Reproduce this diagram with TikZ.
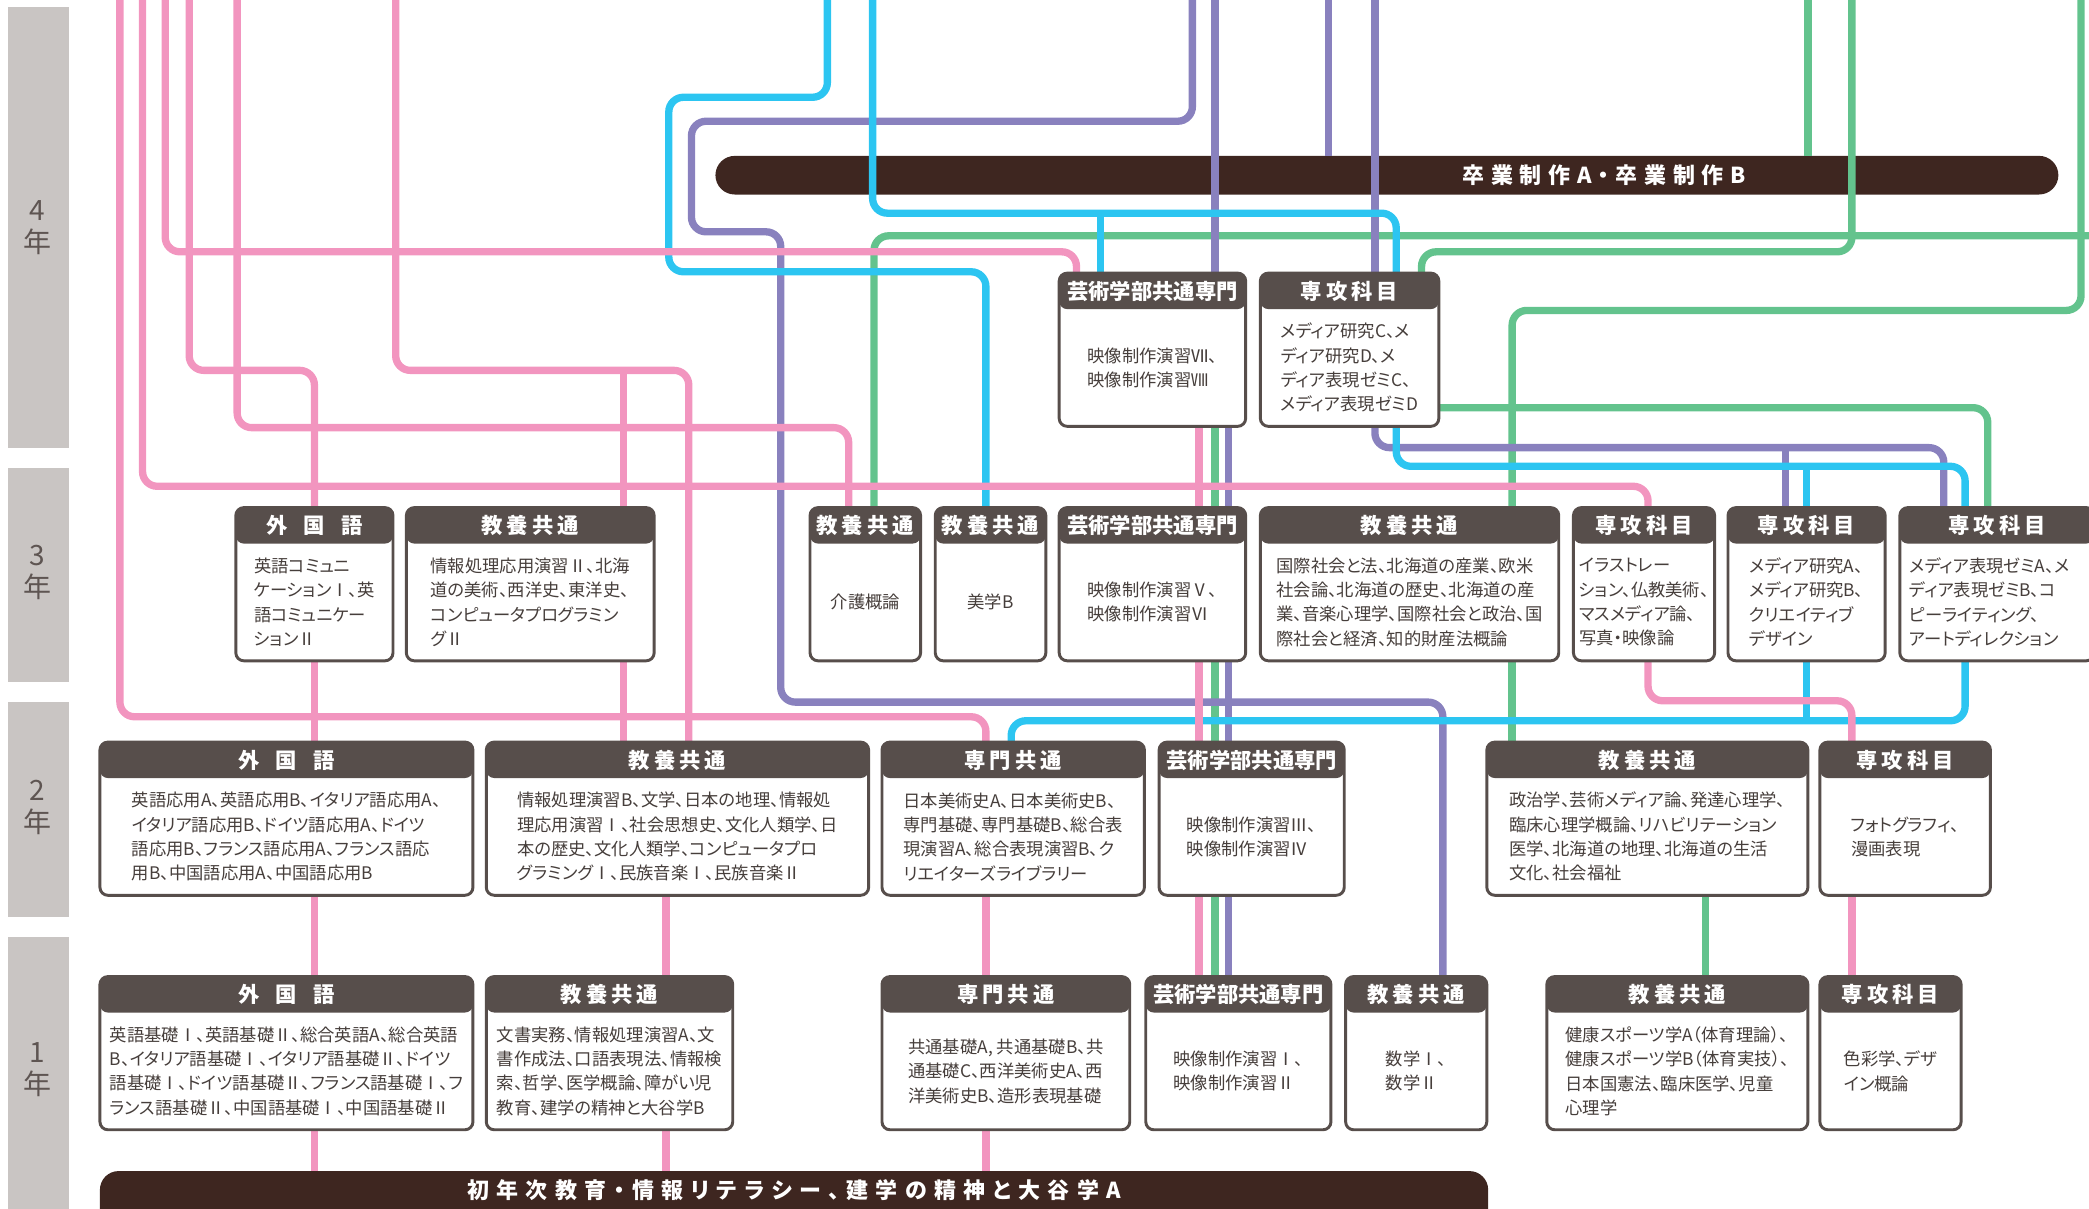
\documentclass[tikz,border=0pt]{standalone}
\usepackage{fontspec}
\setmainfont{Noto Sans CJK JP}[RawFeature=+palt]
\pgfdeclarelayer{barl}
\pgfdeclarelayer{lines}
\pgfsetlayers{barl,lines,main}
\definecolor{pk}{HTML}{F295BF}
\definecolor{cy}{HTML}{2CC5F1}
\definecolor{pu}{HTML}{8981BE}
\definecolor{gr}{HTML}{63C38D}
\definecolor{boxc}{HTML}{574E4B}
\definecolor{barc}{HTML}{3E2620}
\definecolor{yearc}{HTML}{C9C5C3}
\definecolor{txtc}{HTML}{463E3B}
\definecolor{ylab}{HTML}{5E5552}
\makeatletter
\newcommand\lsp[2]{\def\lsp@g{#1}\let\lsp@s\relax\@tfor\lsp@c:=#2\do{\lsp@s\lsp@c\def\lsp@s{\hspace{\lsp@g}}}}
\makeatother
\newcommand\hGK{\lsp{12pt}{外国語}}
\newcommand\hKY{\lsp{3pt}{教養共通}}
\newcommand\hSK{\lsp{3pt}{専攻科目}}
\newcommand\hSM{\lsp{3pt}{専門共通}}
\newcommand\hGJ{芸術学部共通専門}
\tikzset{
  ln/.style={line width=5.5pt, rounded corners=11pt},
  lpk/.style={ln, draw=pk}, lcy/.style={ln, draw=cy},
  lpu/.style={ln, draw=pu}, lgr/.style={ln, draw=gr},
  cbox/.style={draw=boxc, line width=2.2pt, fill=white, rounded corners=6pt,
    inner sep=0pt, outer sep=0pt,
    path picture={\fill[boxc] ([yshift=3pt]path picture bounding box.north west)
      rectangle ([yshift=-27pt]path picture bounding box.north east);}},
  hdr/.style={text=white, font=\fontsize{16}{18}\selectfont\bfseries, inner sep=0pt},
  bodyt/.style={text=txtc, font=\fontsize{13}{18.3}\selectfont, align=left, inner sep=0pt},
  yb/.style={fill=yearc, minimum width=46pt, inner sep=0pt, outer sep=0pt},
  ylabel/.style={text=ylab, font=\fontsize{21}{24}\selectfont, align=center, inner sep=0pt},
  barnode/.style={fill=barc, inner sep=0pt, outer sep=0pt},
  bart/.style={text=white, font=\fontsize{16.5}{18}\selectfont\bfseries, inner sep=0pt}
}
\newcommand\kbox[7]{%
  \node[cbox, minimum width={(#4-#2)*1pt}, minimum height={(#5-#3)*1pt}] (#1) at ({(#2+#4)/2},{(#3+#5)/2}) {};
  \node[hdr] (#1h) at ([yshift=-13.5pt]#1.north) {#6};
  \node[bodyt] (#1b) at ([yshift=-13.5pt]#1.center) {#7};
}
\begin{document}
\begin{tikzpicture}[x=1pt,y=-1pt]
\useasboundingbox (0,0) rectangle (1568,907);
\clip (0,0) rectangle (1568,907);

\begin{pgfonlayer}{barl}
\node[yb, minimum height=331pt] (yb4) at (29,170.5) {};
\node[yb, minimum height=161pt] (yb3) at (29,431.5) {};
\node[yb, minimum height=161pt] (yb2) at (29,607.5) {};
\node[yb, minimum height=212pt] (yb1) at (29,809) {};
\node[barnode, minimum width=1008pt, minimum height=29pt, rounded corners=14.5pt] (bar4) at (1041,131.5) {};
\node[barnode, minimum width=1042pt, minimum height=60pt, rounded corners=14pt] (bar1) at (596,909) {};
\end{pgfonlayer}

\node[ylabel] (yl4) at (28,171) {4\\年};
\node[ylabel] (yl3) at (28,430) {3\\年};
\node[ylabel] (yl2) at (28,606) {2\\年};
\node[ylabel] (yl1) at (28,803) {1\\年};

\node[bart] (bar4t) at (1204,131.5) {\lsp{5pt}{卒業制作A・卒業制作B}};
\node[bart] (bar1t) at (596,893.5) {\lsp{5.5pt}{初年次教育・情報リテラシー、建学の精神と大谷学A}};

% year 4
\kbox{B4a}{795}{205}{935}{320}{\hGJ}{映像制作演習Ⅶ、\\映像制作演習Ⅷ}
\kbox{B4b}{946}{205}{1080}{320}{\hSK}{メディア研究C、メ\\ディア研究D、メ\\ディア表現ゼミC、\\メディア表現ゼミD}
% year 3
\kbox{B3a}{177}{381}{295}{496}{\hGK}{英語コミュニ\\ケーションⅠ、英\\語コミュニケー\\ションⅡ}
\kbox{B3b}{305}{381}{491}{496}{\hKY}{情報処理応用演習Ⅱ、北海\\道の美術、西洋史、東洋史、\\コンピュータプログラミン\\グⅡ}
\kbox{B3c}{608}{381}{691}{496}{\hKY}{介護概論}
\kbox{B3d}{702}{381}{785}{496}{\hKY}{美学B}
\kbox{B3e}{795}{381}{935}{496}{\hGJ}{映像制作演習Ⅴ、\\映像制作演習Ⅵ}
\kbox{B3f}{946}{381}{1170}{496}{\hKY}{国際社会と法、北海道の産業、欧米\\社会論、北海道の歴史、北海道の産\\業、音楽心理学、国際社会と政治、国\\際社会と経済、知的財産法概論}
\kbox{B3g}{1181}{381}{1287}{496}{\hSK}{イラストレー\\ション、仏教美術、\\マスメディア論、\\写真・映像論}
\kbox{B3h}{1297}{381}{1415}{496}{\hSK}{メディア研究A、\\メディア研究B、\\クリエイティブ\\デザイン}
\node[cbox, minimum width=146pt, minimum height=115pt] (B3i) at (1499,438.5) {};
\node[hdr] (B3ih) at ([yshift=-13.5pt]B3i.north) {\hSK};
\node[bodyt, anchor=west] (B3ib) at (1433,452) {メディア表現ゼミA、メ\\ディア表現ゼミB、コ\\ピーライティング、\\アートディレクション};
% year 2
\kbox{B2a}{75}{557}{355}{672}{\hGK}{英語応用A、英語応用B、イタリア語応用A、\\イタリア語応用B、ドイツ語応用A、ドイツ\\語応用B、フランス語応用A、フランス語応\\用B、中国語応用A、中国語応用B}
\kbox{B2b}{365}{557}{652}{672}{\hKY}{情報処理演習B、文学、日本の地理、情報処\\理応用演習Ⅰ、社会思想史、文化人類学、日\\本の歴史、文化人類学、コンピュータプロ\\グラミングⅠ、民族音楽Ⅰ、民族音楽Ⅱ}
\kbox{B2c}{662}{557}{859}{672}{\hSM}{日本美術史A、日本美術史B、\\専門基礎、専門基礎B、総合表\\現演習A、総合表現演習B、ク\\リエイターズライブラリー}
\kbox{B2d}{870}{557}{1009}{672}{\hGJ}{映像制作演習Ⅲ、\\映像制作演習Ⅳ}
\kbox{B2e}{1116}{557}{1357}{672}{\hKY}{政治学、芸術メディア論、発達心理学、\\臨床心理学概論、リハビリテーション\\医学、北海道の地理、北海道の生活\\文化、社会福祉}
\kbox{B2f}{1366}{557}{1494}{672}{\hSK}{フォトグラフィ、\\漫画表現}
% year 1
\kbox{B1a}{75}{733}{355}{848}{\hGK}{英語基礎Ⅰ、英語基礎Ⅱ、総合英語A、総合英語\\B、イタリア語基礎Ⅰ、イタリア語基礎Ⅱ、ドイツ\\語基礎Ⅰ、ドイツ語基礎Ⅱ、フランス語基礎Ⅰ、フ\\ランス語基礎Ⅱ、中国語基礎Ⅰ、中国語基礎Ⅱ}
\kbox{B1b}{365}{733}{550}{848}{\hKY}{文書実務、情報処理演習A、文\\書作成法、口語表現法、情報検\\索、哲学、医学概論、障がい児\\教育、建学の精神と大谷学B}
\kbox{B1c}{662}{733}{848}{848}{\hSM}{共通基礎A, 共通基礎B、共\\通基礎C、西洋美術史A、西\\洋美術史B、造形表現基礎}
\kbox{B1d}{860}{733}{999}{848}{\hGJ}{映像制作演習Ⅰ、\\映像制作演習Ⅱ}
\kbox{B1e}{1010}{733}{1116}{848}{\hKY}{数学Ⅰ、\\数学Ⅱ}
\kbox{B1f}{1161}{733}{1357}{848}{\hKY}{健康スポーツ学A（体育理論）、\\健康スポーツ学B（体育実技）、\\日本国憲法、臨床医学、児童\\心理学}
\kbox{B1g}{1366}{733}{1472}{848}{\hSK}{色彩学、デザ\\イン概論}

\begin{pgfonlayer}{lines}
% green
\draw[lgr] (1357,-10) -- (1357,0 |- bar4.north);
\draw[lgr] (1390,-10) -- (1390,189) -- (1067,189) -- (1067,0 |- B4b.north);
\draw[lgr] (1562,-10) -- (1562,233) -- (1135,233) -- (1135,0 |- B3f.north);
\draw[lgr] (1135,0 |- B3f.south) -- (1135,0 |- B2e.north);
\draw[lgr] (1280,0 |- B2e.south) -- (1280,0 |- B1f.north);
\draw[lgr] (1590,177) -- (656,177) -- (656,0 |- B3c.north);
\draw[lgr] (B4b.east |- 0,306) -- (1492,306) -- (1492,0 |- B3i.north);
\draw[lgr] (912,0 |- B4a.south) -- (912,0 |- B3e.north);
\draw[lgr] (912,0 |- B3e.south) -- (912,0 |- B2d.north);
\draw[lgr] (912,0 |- B2d.south) -- (912,0 |- B1d.north);
% purple
\draw[lpu] (895,-10) -- (895,91) -- (519,91) -- (519,174) -- (586,174) -- (586,527) -- (1083,527) -- (1083,0 |- B1e.north);
\draw[lpu] (912,-10) -- (912,0 |- B4a.north);
\draw[lpu] (922,0 |- B4a.south) -- (922,0 |- B3e.north);
\draw[lpu] (922,0 |- B3e.south) -- (922,0 |- B2d.north);
\draw[lpu] (922,0 |- B2d.south) -- (922,0 |- B1d.north);
\draw[lpu] (997,-10) -- (997,0 |- bar4.north);
\draw[lpu] (1032,-10) -- (1032,0 |- B4b.north);
\draw[lpu] (1032,0 |- B4b.south) -- (1032,336) -- (1459,336) -- (1459,0 |- B3i.north);
\draw[lpu] (1340,336) -- (1340,0 |- B3h.north);
% cyan
\draw[lcy] (621,-10) -- (621,73) -- (502,73) -- (502,204) -- (740,204) -- (740,0 |- B3d.north);
\draw[lcy] (655,-10) -- (655,160) -- (1048,160) -- (1048,0 |- B4b.north);
\draw[lcy] (826,160) -- (826,0 |- B4a.north);
\draw[lcy] (1048,0 |- B4b.south) -- (1048,350) -- (1475,350) -- (1475,0 |- B3i.north);
\draw[lcy] (1356,350) -- (1356,0 |- B3h.north);
\draw[lcy] (1475,0 |- B3i.south) -- (1475,541) -- (759,541) -- (759,0 |- B2c.north);
\draw[lcy] (1356,0 |- B3h.south) -- (1356,541);
% pink
\draw[lpk] (90,-10) -- (90,538) -- (740,538) -- (740,0 |- B2c.north);
\draw[lpk] (740,0 |- B2c.south) -- (740,0 |- B1c.north);
\draw[lpk] (740,0 |- B1c.south) -- (740,0 |- bar1.north);
\draw[lpk] (107,-10) -- (107,365) -- (1237,365) -- (1237,0 |- B3g.north);
\draw[lpk] (1237,0 |- B3g.south) -- (1237,526) -- (1390,526) -- (1390,0 |- B2f.north);
\draw[lpk] (1390,0 |- B2f.south) -- (1390,0 |- B1g.north);
\draw[lpk] (124,-10) -- (124,189) -- (808,189) -- (808,0 |- B4a.north);
\draw[lpk] (900,0 |- B4a.south) -- (900,0 |- B3e.north);
\draw[lpk] (900,0 |- B3e.south) -- (900,0 |- B2d.north);
\draw[lpk] (900,0 |- B2d.south) -- (900,0 |- B1d.north);
\draw[lpk] (142,-10) -- (142,278) -- (236,278) -- (236,0 |- B3a.north);
\draw[lpk] (236,0 |- B3a.south) -- (236,0 |- B2a.north);
\draw[lpk] (236,0 |- B2a.south) -- (236,0 |- B1a.north);
\draw[lpk] (236,0 |- B1a.south) -- (236,0 |- bar1.north);
\draw[lpk] (178,-10) -- (178,321) -- (637,321) -- (637,0 |- B3c.north);
\draw[lpk] (297,-10) -- (297,278) -- (517,278) -- (517,0 |- B2b.north);
\draw[lpk] (468,278) -- (468,0 |- B3b.north);
\draw[lpk] (468,0 |- B3b.south) -- (468,0 |- B2b.north);
\draw[lpk] (500,0 |- B2b.south) -- (500,0 |- B1b.north);
\draw[lpk] (500,0 |- B1b.south) -- (500,0 |- bar1.north);
\end{pgfonlayer}
\end{tikzpicture}
\end{document}
